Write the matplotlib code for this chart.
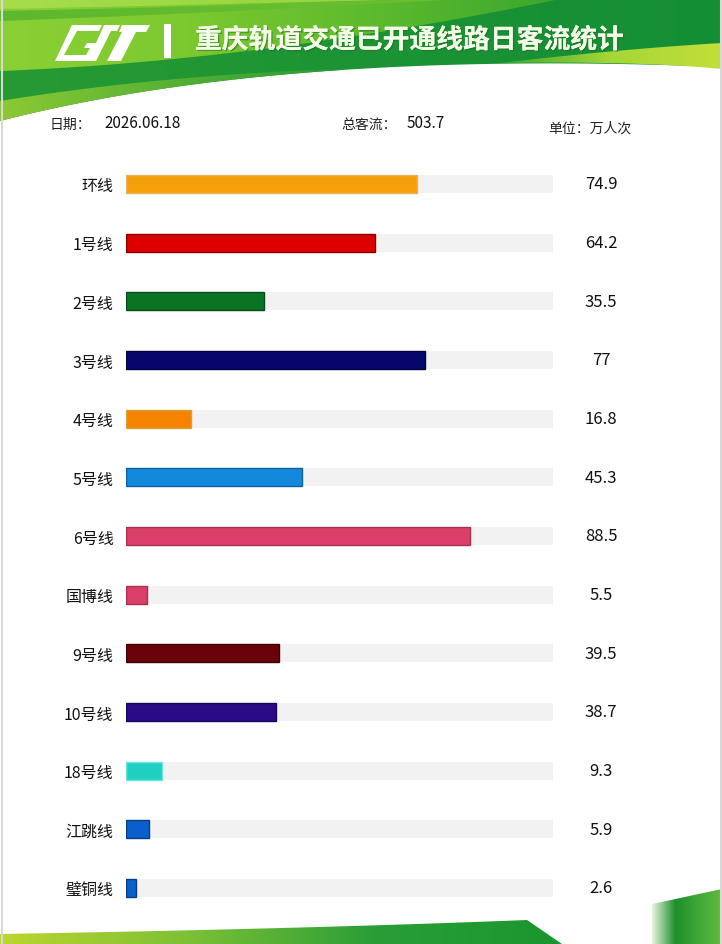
import numpy as np
import matplotlib
matplotlib.use("Agg")
import matplotlib.pyplot as plt
from matplotlib.patches import Polygon
from matplotlib.colors import LinearSegmentedColormap
import matplotlib.transforms as mtransforms
import matplotlib.patheffects as pe

plt.rcParams['font.family'] = ['Noto Sans CJK SC', 'DejaVu Sans']

# ---------------- data ----------------
lines = ["环线", "1号线", "2号线", "3号线", "4号线", "5号线", "6号线",
         "国博线", "9号线", "10号线", "18号线", "江跳线", "璧铜线"]
flows = [74.9, 64.2, 35.5, 77, 16.8, 45.3, 88.5, 5.5, 39.5, 38.7, 9.3, 5.9, 2.6]
value_labels = ["74.9", "64.2", "35.5", "77", "16.8", "45.3", "88.5",
                "5.5", "39.5", "38.7", "9.3", "5.9", "2.6"]
date_text = "2026.06.18"
total_text = "503.7"
unit_text = "单位：万人次"
title_text = "重庆轨道交通已开通线路日客流统计"
axis_max = 110

bar_colors = ["#F5A00A", "#DD0000", "#0B7424", "#06066C", "#F58300", "#1289DC",
              "#DB3F69", "#DB3F69", "#6A0008", "#2B0A88", "#1ECFC2", "#0A5FCC", "#0A5FCC"]
edge_colors = ["#E8B060", "#8A0000", "#064A16", "#03033F", "#D8A040", "#0E5F9E",
               "#A8304F", "#A8304F", "#400004", "#1A0658", "#6FE6DD", "#063D85", "#063D85"]

W, H = 722, 945
fig = plt.figure(figsize=(W / 100, H / 100), dpi=100)
fig.patch.set_facecolor("white")

bg = fig.add_axes([0, 0, 1, 1])
bg.set_xlim(0, W)
bg.set_ylim(H, 0)
bg.axis("off")


def bezier(p0, p1, p2, n=100):
    t = np.linspace(0, 1, n)[:, None]
    p0, p1, p2 = map(np.asarray, (p0, p1, p2))
    return (1 - t) ** 2 * p0 + 2 * (1 - t) * t * p1 + t ** 2 * p2


def grad_fill(verts, colors, extent, horizontal=True, z=1, alpha=1.0):
    poly = Polygon(verts, closed=True, facecolor="none", edgecolor="none")
    bg.add_patch(poly)
    cmap = LinearSegmentedColormap.from_list("g", colors)
    g = np.linspace(0, 1, 256)
    arr = g[None, :] if horizontal else g[:, None]
    im = bg.imshow(arr, cmap=cmap, extent=extent, aspect="auto",
                   zorder=z, alpha=alpha, interpolation="bilinear")
    im.set_clip_path(poly)
    return im


# ---------- header ----------
boundary = bezier((0, 122), (280, 50), (722, 68))
header = np.vstack([[(0, 0), (W, 0)], boundary[::-1]])
grad_fill(header, ["#279A33", "#1C9434", "#148E36"], (0, W, H, 0), z=1)

# lime region upper-left (behind logo and title start)
lime_curve = bezier((0, 72), (260, 62), (560, 0))
lime = np.vstack([[(0, 0), (560, 0)], lime_curve[::-1]])
grad_fill(lime, ["#8AD034", "#7CC92F", "#5DBA2D", "#3AA72F"], (0, 560, H, 0), z=2)

# thin darker streak near top-left
st_top = bezier((0, 12), (200, 8), (420, 0))
st_bot = bezier((0, 22), (220, 14), (460, 0))
streak = np.vstack([st_top, st_bot[::-1]])
grad_fill(streak, ["#5CB82E", "#6CC030"], (0, 460, H, 0), z=2.2)

# lighter top edge
top_curve = bezier((0, 10), (200, 6), (420, 0))
top = np.vstack([[(0, 0), (420, 0)], top_curve[::-1]])
grad_fill(top, ["#A6DD4C", "#93D43E"], (0, 420, H, 0), z=2.3)

# lime strip along lower-left edge
strip_in = bezier((0, 102), (160, 76), (340, 70))
strip = np.vstack([strip_in, boundary[boundary[:, 0] <= 340][::-1]])
grad_fill(strip, ["#8CC934", "#58B134", "#279A33"], (0, 340, H, 0), z=2.6)

# yellow-green stripe at right
ys_top = bezier((500, 64), (620, 50), (722, 44))
ys_bot = bezier((500, 64), (640, 62), (722, 70))
ystripe = np.vstack([ys_top, ys_bot[::-1]])
grad_fill(ystripe, ["#3CA833", "#A6D637", "#C2DF3A"], (500, W, H, 0), z=3)

# logo
logo_kw = dict(facecolor="white", edgecolor="none", zorder=5)
bg.add_patch(Polygon([(72, 26), (102, 26), (99, 32), (77, 32), (64, 56), (86, 56),
                      (90, 49), (84, 49), (87, 44), (100, 44), (90, 62), (55, 62)], **logo_kw))
bg.add_patch(Polygon([(104, 26), (120, 26), (117, 32), (111, 32), (96, 62), (88, 62)], **logo_kw))
bg.add_patch(Polygon([(122, 26), (150, 26), (146, 33), (136, 33), (121, 62), (107, 62),
                      (122, 33), (119, 33)], **logo_kw))
bg.add_patch(Polygon([(164, 25), (171, 25), (171, 59), (164, 59)], **logo_kw))

bg.text(195, 41, title_text, fontsize=19.3, fontweight="bold", color="#F4FBE6",
        va="center", ha="left", zorder=6,
        path_effects=[pe.withSimplePatchShadow(offset=(1, -1), shadow_rgbFace="#1C6A20", alpha=0.5),
                      pe.Normal()])

# info row
info_kw = dict(fontsize=10, color="#222222", va="center", zorder=6)
bg.text(50, 125, "日期：", **info_kw)
bg.text(104, 124, date_text, fontsize=11, color="#111111", va="center", zorder=6)
bg.text(341, 125, "总客流：", **info_kw)
bg.text(407, 124, total_text, fontsize=11, color="#111111", va="center", zorder=6)
bg.text(548, 129, unit_text, **info_kw)

# ---------- footer ----------
foot_curve = bezier((0, 935), (300, 930), (527, 921))
foot = np.vstack([foot_curve, [(562, 945), (0, 945)]])
grad_fill(foot, ["#BCD62E", "#7DC036", "#2A9E36", "#1A962F"], (0, 562, H, 0), z=2)
rblock = [(652, 905), (722, 890), (722, 945), (652, 945)]
grad_fill(rblock, ["#E8F3E0", "#1E8F2C", "#3FA937", "#62BA3C"], (652, W, H, 0), z=2)

# faint frame edges
bg.plot([1.5, 1.5], [0, H], color="#D8D8D8", lw=1.5, zorder=7)
bg.plot([W - 1.5, W - 1.5], [0, H], color="#D8D8D8", lw=1.5, zorder=7)

# ---------- main bar chart ----------
n = len(lines)
row = (889 - 185) / (n - 1)
top_px = 185 - row / 2
bot_px = 889 + row / 2
ax = fig.add_axes([126 / W, 1 - bot_px / H, (553 - 126) / W, (bot_px - top_px) / H])
ax.set_facecolor("none")
y = np.arange(n)
bh = 18 / row
ax.barh(y, [axis_max] * n, height=bh, color="#F2F2F2", edgecolor="none", zorder=1)
ax.barh(y, flows, height=bh, color=bar_colors, edgecolor=edge_colors, linewidth=1.0, zorder=2)
ax.set_xlim(0, axis_max)
ax.set_ylim(n - 0.5, -0.5)
ax.set_yticks(y)
ax.set_yticklabels(lines, fontsize=11.5, color="#111111")
ax.tick_params(axis="y", length=0, pad=9)
ax.set_xticks([])
for s in ax.spines.values():
    s.set_visible(False)

trans = mtransforms.blended_transform_factory(fig.transFigure, ax.transData)
for yi, lab in zip(y, value_labels):
    ax.text(601 / W, yi, lab, transform=trans, ha="center", va="center",
            fontsize=12, color="#111111")

fig.savefig("out.png", dpi=100, facecolor="white")
